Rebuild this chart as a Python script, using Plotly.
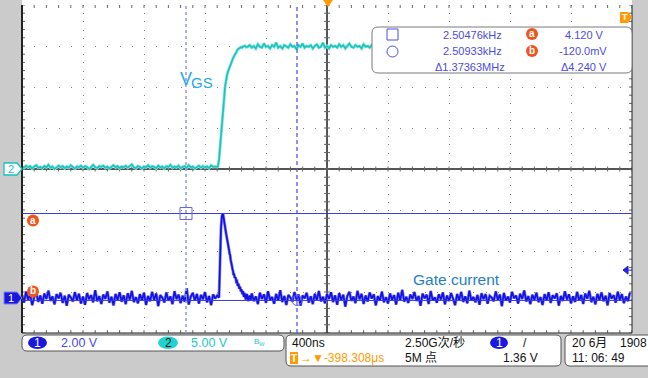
import numpy as np
import plotly.graph_objects as go

# ------------------------------------------------------------------ data
SAMPLE_NS = 40.0 / 3.0          # sample spacing of the listed noise samples (ns)
T_START = -2000.0               # left edge of the screen, ns from screen centre

# CH1 (gate current probe, volts) - baseline noise left of the pulse, samples 0..96
ch1_noise_left = [
    0.15, -0.22, 0.31, -0.08, 0.18, -0.35, 0.05, 0.27, -0.19, 0.12,
    -0.28, 0.22, -0.05, 0.36, -0.14, 0.08, -0.31, 0.19, -0.02, 0.25,
    -0.24, 0.11, -0.38, 0.16, 0.03, -0.17, 0.29, -0.11, 0.21, -0.27,
    0.07, -0.33, 0.24, -0.06, 0.14, -0.21, 0.38, -0.16, 0.09, -0.29,
    0.17, -0.04, 0.32, -0.23, 0.06, -0.36, 0.2, -0.1, 0.28, -0.18,
    0.13, -0.3, 0.23, -0.07, 0.35, -0.2, 0.04, -0.26, 0.19, -0.12,
    0.26, -0.34, 0.1, -0.15, 0.3, -0.09, 0.22, -0.4, 0.14, 0.02,
    -0.22, 0.27, -0.13, 0.08, -0.3, 0.33, -0.05, 0.16, -0.25, 0.11,
    -0.18, 0.48, -0.32, 0.07, 0.25, -0.12, 0.2, -0.27, 0.15, -0.06,
    0.29, -0.21, 0.1, -0.35, 0.18, -0.03, 0.12,
]
# CH1 gate-current pulse
ch1_pulse_t = [-708, -695, -689, -682, -678, -675, -672, -669, -665, -662,
               -658, -655, -652, -649, -645, -642, -638, -636, -632, -629,
               -626, -623, -619, -616, -613, -610, -605, -600, -595, -590,
               -585, -580, -575, -570, -565, -560, -555, -551, -545, -540,
               -533, -525, -517, -508, -500]
ch1_pulse_v = [0.02, 3.42, 4.01, 4.12, 3.85, 3.72, 3.5, 3.36, 3.3, 3.16,
               3.02, 2.92, 2.7, 2.62, 2.4, 2.33, 2.12, 2.14, 1.88, 1.8,
               1.6, 1.55, 1.38, 1.32, 1.12, 1.2, 0.98, 1.02, 0.8, 0.82,
               0.58, 0.7, 0.45, 0.55, 0.32, 0.42, 0.18, 0.34, 0.05, 0.25,
               -0.08, 0.2, -0.15, 0.12, -0.1]
# CH1 baseline noise right of the pulse, samples 113..299
CH1_RIGHT_FIRST = 113
ch1_noise_right = [
    0.22, -0.15, 0.08, -0.3, 0.26, -0.05, 0.18, -0.24, 0.33, -0.1,
    0.05, -0.28, 0.2, -0.12, 0.38, -0.2, 0.1, -0.34, 0.15, 0.02,
    -0.18, 0.29, -0.08, 0.17, -0.37, 0.12, -0.02, 0.25, -0.22, 0.09,
    -0.3, 0.21, -0.11, 0.34, -0.16, 0.06, -0.26, 0.19, -0.04, 0.28,
    -0.2, 0.13, -0.33, 0.24, -0.09, 0.16, -0.42, 0.1, 0.3, -0.14,
    0.07, -0.25, 0.35, -0.06, 0.2, -0.29, 0.12, -0.17, 0.27, -0.03,
    0.18, -0.36, 0.09, -0.13, 0.31, -0.21, 0.04, -0.27, 0.22, -0.08,
    0.14, -0.32, 0.26, -0.1, 0.4, -0.18, 0.06, -0.24, 0.17, -0.05,
    0.29, -0.14, 0.1, -0.38, 0.21, -0.02, 0.16, -0.29, 0.34, -0.11,
    0.03, -0.23, 0.18, -0.07, 0.27, -0.31, 0.12, -0.15, 0.24, -0.04,
    -0.35, 0.2, -0.1, 0.3, -0.19, 0.08, -0.26, 0.36, -0.12, 0.05,
    -0.21, 0.15, -0.33, 0.23, -0.06, 0.19, -0.28, 0.11, 0.02, -0.16,
    0.32, -0.09, 0.17, -0.4, 0.25, -0.13, 0.07, -0.22, 0.3, -0.01,
    0.12, -0.27, 0.21, -0.05, 0.37, -0.17, 0.09, -0.3, 0.16, -0.08,
    0.26, -0.2, 0.04, -0.34, 0.19, -0.11, 0.28, -0.24, 0.13, -0.02,
    0.23, -0.37, 0.1, -0.14, 0.33, -0.07, 0.18, -0.26, 0.08, -0.19,
    0.3, -0.12, 0.15, -0.29, 0.22, -0.04, 0.35, -0.2, 0.06, -0.31,
    0.2, -0.09, 0.27, -0.16, 0.11, -0.36, 0.24, -0.03, 0.14, -0.23,
    0.31, -0.1, 0.19, -0.25, 0.07, -0.15, 0.26,
]

# CH2 (VGS, volts) - samples 0..95 before the edge
ch2_base = [
    0.3, 0.15, 0.4, 0.2, 0.35, 0.05, 0.3, 0.45, 0.15, 0.25,
    0.1, 0.35, 0.2, 0.5, 0.15, 0.3, 0.0, 0.25, 0.4, 0.2,
    0.35, 0.1, 0.3, 0.15, 0.45, 0.25, 0.05, 0.3, 0.2, 0.4,
    0.15, 0.35, 0.25, 0.0, 0.3, 0.5, 0.2, 0.1, 0.35, 0.25,
    0.4, 0.15, 0.3, 0.05, 0.25, 0.45, 0.2, 0.35, 0.1, 0.3,
    0.2, 0.4, 0.15, 0.3, 0.55, 0.2, 0.1, 0.35, 0.25, 0.05,
    0.3, 0.2, 0.45, 0.15, 0.35, 0.25, 0.1, 0.4, 0.2, 0.3,
    0.05, 0.35, 0.25, 0.5, 0.15, 0.3, 0.2, 0.4, 0.1, 0.25,
    0.35, 0.15, 0.45, 0.2, 0.3, 0.05, 0.25, 0.4, 0.15, 0.35,
    0.2, 0.3, 0.1, 0.45, 0.25, 0.3,
]
ch2_rise_t = [-720, -715, -708, -702, -695, -689, -682, -675, -669, -662,
              -655, -649, -642, -636, -629, -623, -616, -610, -603, -597,
              -590, -584, -577, -571, -564, -557, -550, -538, -530]
ch2_rise_v = [0.25, 0.3, 1.16, 2.38, 3.6, 4.83, 6.66, 8.5, 9.96, 10.9,
              11.5, 11.9, 12.3, 12.65, 12.9, 13.1, 13.5, 13.75, 14.0, 14.2,
              14.4, 14.6, 14.7, 14.75, 14.85, 14.8, 14.95, 15.0, 14.85]
CH2_PLATEAU_FIRST = 111
ch2_plateau = [
    14.9, 15.1, 14.8, 15.0, 14.7, 15.2, 14.9, 14.8, 15.3, 14.9,
    15.0, 14.7, 15.1, 14.9, 15.4, 14.8, 15.0, 14.7, 15.1, 14.9,
    14.8, 15.2, 14.9, 15.0, 14.6, 15.1, 14.9, 15.3, 14.8, 15.0,
    14.9, 15.1, 14.7, 15.0, 15.2, 14.8, 14.9, 15.4, 14.8, 15.0,
    14.7, 15.1, 14.9, 15.0, 14.8, 15.2, 14.9, 15.1, 14.7, 15.0,
    15.3, 14.9, 14.8, 15.1, 14.9, 15.0, 14.7, 15.2, 14.9, 15.0,
    14.8, 15.1, 14.9, 15.0, 14.9,
]

cursor_t = [-924.6, -196.7]     # vertical cursors, ns
cursor_v = [4.12, -0.12]        # horizontal cursors a / b, CH1 volts
trigger_level = 1.36            # CH1 volts

readout_freq = ["2.50476kHz", "2.50933kHz", "\u03941.37363MHz"]
readout_volt = ["4.120 V", "-120.0mV", "\u03944.240 V"]

# ------------------------------------------------------------------ geometry / style
W, H = 648, 378
PL, PR, PT, PB = 22, 632, 5, 333          # graticule box in pixels
HDIV, VDIV = 10, 8
NS_PER_DIV = 400
CH1_VDIV, CH2_VDIV = 2.0, 5.0
CH1_POS_DIV = -(298 - 169) / 41.0         # CH1 ground marker position in divisions
CH2_POS_DIV = 0.0

x_rng = [-HDIV / 2 * NS_PER_DIV, HDIV / 2 * NS_PER_DIV]
y_rng = [(-VDIV / 2 - CH2_POS_DIV) * CH2_VDIV, (VDIV / 2 - CH2_POS_DIV) * CH2_VDIV]
y2_rng = [(-VDIV / 2 - CH1_POS_DIV) * CH1_VDIV, (VDIV / 2 - CH1_POS_DIV) * CH1_VDIV]

pw, ph = PR - PL, PB - PT
ns_per_px = (x_rng[1] - x_rng[0]) / pw
v_per_px = (y_rng[1] - y_rng[0]) / ph

FONT = "Liberation Sans, Arial, Noto Sans CJK SC, sans-serif"
C_CH1 = "#1212e4"
C_CH2 = "#19c4be"
C_CUR = "#4c4ce0"
C_ORG = "#f0561c"
C_TRIG = "#ff9a00"


def px(x):
    return (x - PL) / pw


def py(y):
    return (PB - y) / ph


def ypx_ch1(v):
    """pixel row of a CH1 voltage (same linear map as the y2 axis)"""
    return PB - (v - y2_rng[0]) / (y2_rng[1] - y2_rng[0]) * ph


def ypx_ch2(v):
    return PB - (v - y_rng[0]) / (y_rng[1] - y_rng[0]) * ph


def rrect(x0, y0, x1, y1, r):
    pts = [("M", x0 + r, y0), ("L", x1 - r, y0), ("Q", x1, y0, x1, y0 + r),
           ("L", x1, y1 - r), ("Q", x1, y1, x1 - r, y1), ("L", x0 + r, y1),
           ("Q", x0, y1, x0, y1 - r), ("L", x0, y0 + r), ("Q", x0, y0, x0 + r, y0)]
    s = ""
    for p in pts:
        if p[0] == "Q":
            s += f"Q{px(p[1])},{py(p[2])} {px(p[3])},{py(p[4])} "
        else:
            s += f"{p[0]}{px(p[1])},{py(p[2])} "
    return s + "Z"


# ------------------------------------------------------------------ traces
t1_left = T_START + np.arange(len(ch1_noise_left)) * SAMPLE_NS
t1_right = T_START + (CH1_RIGHT_FIRST + np.arange(len(ch1_noise_right))) * SAMPLE_NS
ch1_t = np.concatenate([t1_left, ch1_pulse_t, t1_right])
ch1_v = np.concatenate([ch1_noise_left, ch1_pulse_v, ch1_noise_right])

t2_base = T_START + np.arange(len(ch2_base)) * SAMPLE_NS
t2_plat = T_START + (CH2_PLATEAU_FIRST + np.arange(len(ch2_plateau))) * SAMPLE_NS
ch2_t = np.concatenate([t2_base, ch2_rise_t, t2_plat])
ch2_v = np.concatenate([ch2_base, ch2_rise_v, ch2_plateau])

# graticule tick marks (centre cross and border)
tx, ty = [], []
minor_x = NS_PER_DIV / 5
minor_y = CH2_VDIV / 5
for k in range(-25, 26):
    x = k * minor_x
    tx += [x, x, None]; ty += [-2.5 * v_per_px, 2.5 * v_per_px, None]
    tx += [x, x, None]; ty += [y_rng[0], y_rng[0] + 3 * v_per_px, None]
    tx += [x, x, None]; ty += [y_rng[1] - 3 * v_per_px, y_rng[1], None]
for k in range(-20, 21):
    y = k * minor_y
    tx += [-3 * ns_per_px, 3 * ns_per_px, None]; ty += [y, y, None]
    tx += [x_rng[0], x_rng[0] + 3 * ns_per_px, None]; ty += [y, y, None]
    tx += [x_rng[1] - 3 * ns_per_px, x_rng[1], None]; ty += [y, y, None]

fig = go.Figure()
fig.add_trace(go.Scatter(x=tx, y=ty, mode="lines", line=dict(color="#666", width=1),
                         hoverinfo="skip", showlegend=False))
fig.add_trace(go.Scatter(x=ch2_t, y=ch2_v, mode="lines", line=dict(color="#8fe3df", width=3),
                         hoverinfo="skip", showlegend=False))
fig.add_trace(go.Scatter(x=ch2_t, y=ch2_v, mode="lines", line=dict(color=C_CH2, width=1.6),
                         hoverinfo="skip", showlegend=False))
fig.add_trace(go.Scatter(x=ch1_t, y=ch1_v, mode="lines", yaxis="y2",
                         line=dict(color="#8a8af2", width=3),
                         hoverinfo="skip", showlegend=False))
fig.add_trace(go.Scatter(x=ch1_t, y=ch1_v, mode="lines", yaxis="y2",
                         line=dict(color=C_CH1, width=1.7),
                         hoverinfo="skip", showlegend=False))

# ------------------------------------------------------------------ shapes
shapes = []
# white strip above graticule
shapes.append(dict(type="rect", xref="paper", yref="paper", x0=0, x1=1, y0=1, y1=py(0),
                   fillcolor="white", line=dict(width=0), layer="below"))
# border lines
shapes.append(dict(type="line", xref="paper", yref="paper", x0=0, x1=0, y0=0, y1=1,
                   line=dict(color="#222", width=2)))
shapes.append(dict(type="line", xref="paper", yref="paper", x0=1, x1=1, y0=0, y1=1,
                   line=dict(color="#222", width=1)))
shapes.append(dict(type="line", xref="paper", yref="paper", x0=0, x1=1, y0=0, y1=0,
                   line=dict(color="#222", width=1)))
# cursors
shapes.append(dict(type="line", xref="x", yref="paper", x0=cursor_t[0], x1=cursor_t[0],
                   y0=0, y1=1, line=dict(color="#9a9af2", width=1.6, dash="3px,3px")))
shapes.append(dict(type="line", xref="x", yref="paper", x0=cursor_t[1], x1=cursor_t[1],
                   y0=0, y1=1, line=dict(color="#5555e4", width=1.3, dash="4px,3px")))
for v in cursor_v:
    shapes.append(dict(type="line", xref="paper", yref="y2", x0=0, x1=1, y0=v, y1=v,
                       line=dict(color="#3a3ad8", width=1)))
shapes.append(dict(type="rect", xref="x", yref="y2", xsizemode="pixel", ysizemode="pixel",
                   xanchor=cursor_t[0], yanchor=cursor_v[0], x0=-6, x1=6, y0=-6, y1=6,
                   line=dict(color="#6262ea", width=1)))
shapes.append(dict(type="circle", xref="x", yref="y2", xsizemode="pixel", ysizemode="pixel",
                   xanchor=cursor_t[1], yanchor=cursor_v[1], x0=-5, x1=5, y0=-5, y1=5,
                   line=dict(color="#6262ea", width=1)))
# a / b badges on the left (centre pixel rows derived from the cursor levels)
ya_px = ypx_ch1(cursor_v[0]) + 7
yb_px = ypx_ch1(cursor_v[1]) - 9
for yc in (ya_px, yb_px):
    shapes.append(dict(type="circle", xref="paper", yref="paper", x0=px(27), x1=px(39),
                       y0=py(yc - 6), y1=py(yc + 6), fillcolor=C_ORG, line=dict(width=0)))


def chan_marker(yc):
    return (f"M{px(4)},{py(yc - 6)} L{px(17)},{py(yc - 6)} L{px(22)},{py(yc)} "
            f"L{px(17)},{py(yc + 6)} L{px(4)},{py(yc + 6)} Z")


y2_px = ypx_ch2(0.0)
y1_px = ypx_ch1(0.0)
shapes.append(dict(type="path", xref="paper", yref="paper", path=chan_marker(y2_px),
                   fillcolor="white", line=dict(color=C_CH2, width=1.3)))
shapes.append(dict(type="path", xref="paper", yref="paper", path=chan_marker(y1_px),
                   fillcolor="#1818e0", line=dict(color="#8080f0", width=1)))
# trigger level arrow on the right
yt_px = ypx_ch1(trigger_level)
shapes.append(dict(type="path", xref="paper", yref="paper",
                   path=f"M{px(623)},{py(yt_px)} L{px(628)},{py(yt_px - 4)} "
                        f"L{px(628)},{py(yt_px + 4)} Z M{px(628)},{py(yt_px)} L{px(632)},{py(yt_px)}",
                   fillcolor="#2020e0", line=dict(color="#2020e0", width=1)))
# trigger position markers (orange)
shapes.append(dict(type="path", xref="paper", yref="paper",
                   path=f"M{px(323)},{py(0)} L{px(333)},{py(0)} L{px(328)},{py(7)} Z",
                   fillcolor=C_TRIG, line=dict(width=0)))
shapes.append(dict(type="path", xref="paper", yref="paper",
                   path=f"M{px(620)},{py(12)} L{px(628)},{py(12)} L{px(632)},{py(17)} "
                        f"L{px(628)},{py(23)} L{px(620)},{py(23)} Z",
                   fillcolor=C_TRIG, line=dict(width=0)))
# measurement box
shapes.append(dict(type="path", xref="paper", yref="paper", path=rrect(372, 27, 632, 73, 6),
                   fillcolor="white", line=dict(color="#7a7a7a", width=1)))
shapes.append(dict(type="rect", xref="paper", yref="paper", x0=px(387), x1=px(398),
                   y0=py(29), y1=py(40), line=dict(color=C_CUR, width=1)))
shapes.append(dict(type="circle", xref="paper", yref="paper", x0=px(387), x1=px(398),
                   y0=py(46), y1=py(57), line=dict(color=C_CUR, width=1)))
for yy in (34, 51):
    shapes.append(dict(type="circle", xref="paper", yref="paper", x0=px(526), x1=px(538),
                       y0=py(yy - 6), y1=py(yy + 6), fillcolor=C_ORG, line=dict(width=0)))
# bottom status boxes
for (a, b, c, d) in [(22, 335, 284, 351), (286, 335, 561, 366), (565, 335, 664, 366)]:
    shapes.append(dict(type="path", xref="paper", yref="paper", path=rrect(a, b, c, d, 5),
                       fillcolor="white", line=dict(color="#555", width=1)))
for (a, c, col) in [(28, 47, "#1818e0"), (158, 178, "#1fd3d3"), (490, 508, "#1818e0")]:
    shapes.append(dict(type="circle", xref="paper", yref="paper", x0=px(a), x1=px(c),
                       y0=py(336.5), y1=py(349), fillcolor=col, line=dict(width=0)))
shapes.append(dict(type="rect", xref="paper", yref="paper", x0=px(290), x1=px(298),
                   y0=py(352), y1=py(364), fillcolor=C_TRIG, line=dict(width=0)))

# ------------------------------------------------------------------ annotations
anns = []


def ann(text, x, y, size=12, color="#111", xanchor="left", family=FONT):
    anns.append(dict(text=text, x=px(x), y=py(y), xref="paper", yref="paper",
                     xanchor=xanchor, yanchor="middle", showarrow=False, borderpad=0,
                     font=dict(size=size, color=color, family=family)))


ann("V", 186, 78.5, 18, "#1eaae6", "center", "Liberation Sans, Arial")
ann("GS", 202, 82.5, 15, "#1eaae6", "center", "Liberation Sans, Arial")
ann("Gate current", 412, 279, 15.5, "#1f80c8", "left", "Liberation Sans, Arial")

ann(readout_freq[0], 442, 34.5, 11, C_CUR)
ann(readout_freq[1], 442, 51.5, 11, C_CUR)
ann(readout_freq[2], 434, 66.5, 11, C_CUR)
ann(readout_volt[0], 564, 34.5, 11, C_CUR)
ann(readout_volt[1], 558, 51.5, 11, C_CUR)
ann(readout_volt[2], 560, 66.5, 11, C_CUR)
ann("<b>a</b>", 532, 33.5, 10, "white", "center")
ann("<b>b</b>", 532, 50.5, 10, "white", "center")
ann("<b>T</b>", 624.5, 17.5, 9, "white", "center")

ann("<b>a</b>", 33, ya_px - 0.5, 10, "white", "center")
ann("<b>b</b>", 33, yb_px - 0.5, 10, "white", "center")
ann("2", 11, y2_px, 11, C_CH2, "center")
ann("1", 11, y1_px, 11, "white", "center")

ann("1", 37.5, 343, 12, "white", "center")
ann("2.00 V", 60, 343, 12.5, "#4a4ae8")
ann("2", 168, 343, 12, "#111", "center")
ann("5.00 V", 190, 343, 12.5, "#1ec8c8")
ann("B<sub>W</sub>", 253, 342, 8, "#1ec8c8")
ann("400ns", 291, 343, 12)
ann("2.50G次/秒", 404, 343, 12)
ann("1", 499, 343, 12, "white", "center")
ann("/", 522, 343, 12)
ann("<b>T</b>", 294, 358, 10, "white", "center")
ann("\u2192\u25bc-398.308\u03bcs", 299, 358, 12, C_TRIG)
ann("5M 点", 404, 358, 12)
ann("1.36 V", 502, 358, 12)
ann("20 6月", 571, 343, 12)
ann("1908", 619, 343, 12)
ann("11: 06: 49", 571, 358, 12)

# ------------------------------------------------------------------ layout
fig.update_layout(
    width=W, height=H, autosize=False,
    margin=dict(l=PL, r=W - PR, t=PT, b=H - PB, pad=0),
    paper_bgcolor="#cbcbcb", plot_bgcolor="white",
    font=dict(family=FONT),
    showlegend=False,
    xaxis=dict(range=x_rng, tick0=x_rng[0], dtick=NS_PER_DIV, showgrid=True,
               gridcolor="#808080", gridwidth=1, griddash=f"1px,{ph / 40 - 1:.3f}px",
               zeroline=True, zerolinecolor="#555", zerolinewidth=1.2,
               showticklabels=False, ticks="", showline=False, fixedrange=True),
    yaxis=dict(range=y_rng, tick0=y_rng[0], dtick=CH2_VDIV, showgrid=True,
               gridcolor="#808080", gridwidth=1, griddash=f"1px,{pw / 50 - 1:.3f}px",
               zeroline=True, zerolinecolor="#555", zerolinewidth=1.2,
               showticklabels=False, ticks="", showline=False, fixedrange=True),
    yaxis2=dict(range=y2_rng, overlaying="y", visible=False, showgrid=False,
                zeroline=False, fixedrange=True),
    shapes=shapes,
    annotations=anns,
)

fig.write_html("out.html", config={"displayModeBar": False, "staticPlot": True})
